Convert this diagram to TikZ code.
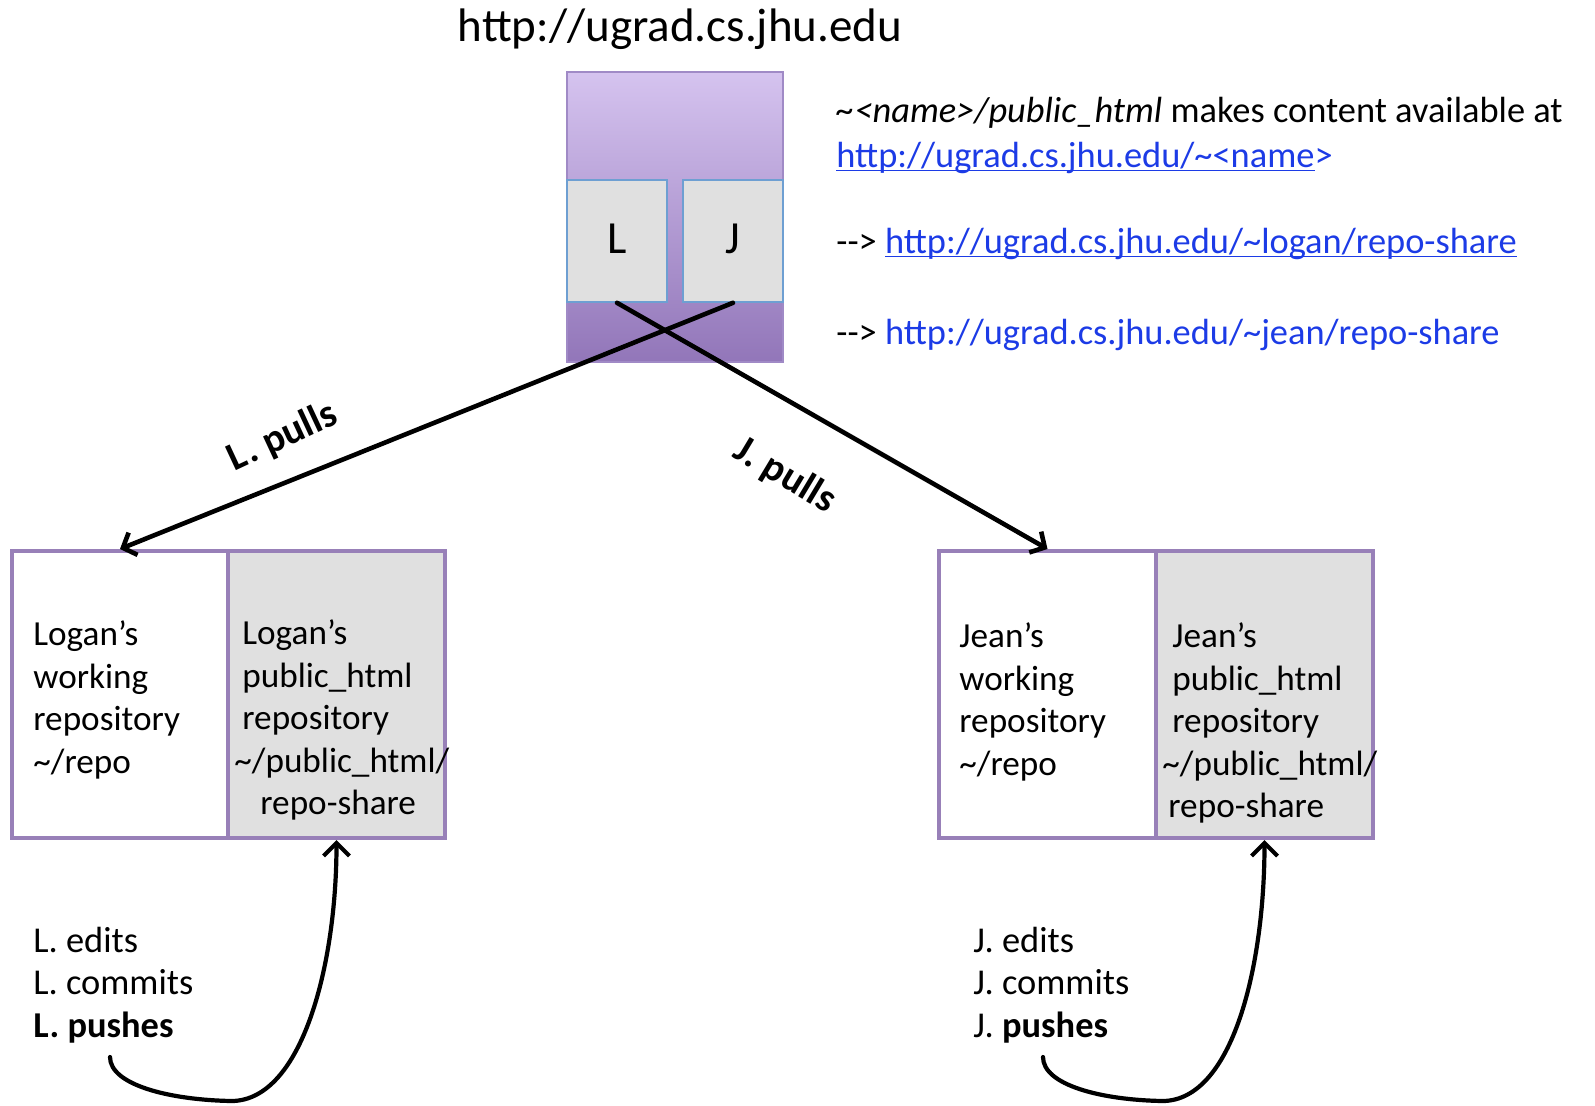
\documentclass[tikz,border=0pt]{standalone}
\usepackage{fontspec}
\setmainfont{Carlito}
\usetikzlibrary{arrows.meta}
\definecolor{servertop}{HTML}{D5C3EF}
\definecolor{serverbottom}{HTML}{9276B9}
\definecolor{serverborder}{HTML}{A08AC6}
\definecolor{slotfill}{HTML}{E0E0E0}
\definecolor{slotborder}{HTML}{6E9FD2}
\definecolor{repoborder}{HTML}{9880B8}
\definecolor{pubfill}{HTML}{E0E0E0}
\definecolor{linkblue}{HTML}{1C3BE6}
\newcommand{\tld}{\textasciitilde}
\newcommand{\weblink}[1]{\underline{\smash{#1}}}
\newcommand{\dashto}{-\kern0pt-\kern0pt>}
\tikzset{
  server/.style={
    rectangle,
    draw=serverborder,
    line width=0.6pt,
    top color=servertop,
    bottom color=serverbottom,
    minimum width=108pt,
    minimum height=145pt
  },
  slot/.style={
    rectangle,
    draw=slotborder,
    fill=slotfill,
    line width=0.8pt,
    minimum width=50pt,
    minimum height=61pt,
    text depth=2pt,
    font=\fontsize{23}{27}\selectfont
  },
  repo/.style={
    rectangle,
    draw=repoborder,
    line width=2pt,
    minimum width=108.5pt,
    minimum height=143.5pt
  },
  work/.style={
    repo,
    fill=white
  },
  pub/.style={
    repo,
    fill=pubfill
  },
  txt/.style={
    inner sep=0pt,
    anchor=west,
    align=left,
    font=\fontsize{18.2}{21.25}\selectfont
  },
  boxtxt/.style={
    txt,
    font=\fontsize{17.6}{21.25}\selectfont
  },
  pull/.style={
    -{Straight Barb[length=5.5pt,width=12pt]},
    line width=2.3pt,
    line cap=round
  },
  push/.style={
    -{Straight Barb[length=6.5pt,width=13pt]},
    line width=2.1pt,
    line cap=round
  },
  pull-label/.style={
    inner sep=0pt,
    font=\fontsize{20}{24}\selectfont\bfseries
  }
}
\begin{document}
\begin{tikzpicture}[x=0.5pt, y=-0.5pt]
\useasboundingbox (0,0) rectangle (1595,1105);

% Server with the two shared repositories.
\node[inner sep=0pt, font=\fontsize{23.5}{28}\selectfont] (host) at (680,29) {http://ugrad.cs.jhu.edu};
\node[server] (server) at (675,217) {};
\node[slot] (slotL) at (617,241) {L};
\node[slot] (slotJ) at (733,241) {J};

% Notes on the right.
\node[txt] (note) at (836,113) {{\itshape \tld<name>/public\_html} makes content available at};
\node[txt] (url) at (836,160) {\textcolor{linkblue}{\weblink{http://ugrad.cs.jhu.edu/\tld<name}>}};
\node[txt] (urlL) at (836,246) {\dashto{} \textcolor{linkblue}{\weblink{http://ugrad.cs.jhu.edu/\tld logan/repo-share}}};
\node[txt] (urlJ) at (836,335) {\dashto{} \textcolor{linkblue}{http://ugrad.cs.jhu.edu/\tld jean/repo-share}};

% Logan's side.
\node[work] (Lwork) at (120,694.5) {};
\node[pub] (Lpub) at (336.5,694.5) {};
\node[boxtxt] (Lworktext) at (33,700) {Logan’s\\working\\repository\\\tld/repo};
\node[boxtxt] (Lpubtext) at (234,720) {\hspace*{4pt}Logan’s\\\hspace*{4pt}public\_html\\\hspace*{4pt}repository\\\tld/public\_html/\\\hspace*{13pt}repo-share};
\node[txt] (Lsteps) at (33,985) {L. edits\\L. commits\\\textbf{L. pushes}};

% Jean's side.
\node[work] (Jwork) at (1047.5,694.5) {};
\node[pub] (Jpub) at (1264.5,694.5) {};
\node[boxtxt] (Jworktext) at (959,702) {Jean’s\\working\\repository\\\tld/repo};
\node[boxtxt] (Jpubtext) at (1162,723) {\hspace*{5pt}Jean’s\\\hspace*{5pt}public\_html\\\hspace*{5pt}repository\\\tld/public\_html/\\\hspace*{3pt}repo-share};
\node[txt] (Jsteps) at (973,985) {J. edits\\J. commits\\J. \textbf{pushes}};

% Pulls (the two lines cross below the server).
\draw[pull] (slotJ.south) -- (Lwork.north);
\draw[pull] (slotL.south) -- (Jwork.north);
\node[pull-label, rotate=25] (Lpulls) at (283,437) {L. pulls};
\node[pull-label, rotate=-31] (Jpulls) at (785,476) {J. pulls};

% Pushes.
\coordinate (Lpush) at (110,1057);
\coordinate (Lbend) at (232,1101);
\coordinate (Jpush) at (1043,1057);
\coordinate (Jbend) at (1163,1101);
\draw[push] (Lpush) .. controls +(0,28) and +(-62,-1) .. (Lbend)
  .. controls +(70,-1) and +(0,125) .. (Lpub.south);
\draw[push] (Jpush) .. controls +(0,28) and +(-62,-1) .. (Jbend)
  .. controls +(70,-1) and +(0,125) .. (Jpub.south);

\end{tikzpicture}
\end{document}
